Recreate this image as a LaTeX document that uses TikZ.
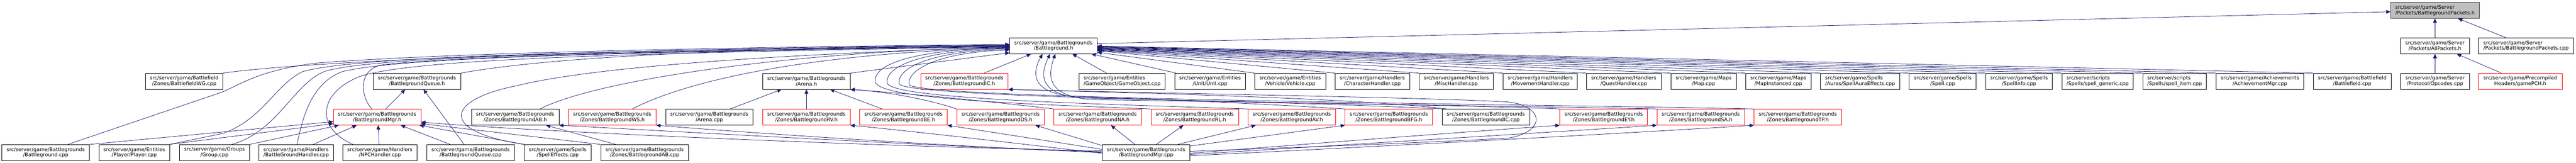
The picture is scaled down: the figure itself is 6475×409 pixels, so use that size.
\documentclass[tikz,border=0pt]{standalone}
\usepackage{fontspec}
\setmainfont{DejaVu Sans}
\usetikzlibrary{arrows.meta,calc}
\definecolor{mblue}{HTML}{191970}
\definecolor{rootfill}{HTML}{BFBFBF}
\begin{document}
\begin{tikzpicture}[x=0.75pt,y=-0.75pt,
  box/.style={draw=black,line width=0.75pt,rectangle,inner sep=0pt,minimum height=30pt,font=\fontsize{9.5}{10.5}\selectfont,align=center},
  rbox/.style={box,draw=red},
  lbox/.style={box,align=left},
  root/.style={box,fill=rootfill,draw=black!80,align=left},
  ed/.style={draw=mblue,line width=0.75pt},
  ar/.style={ed,{Triangle[length=8pt,width=7pt]}-}]
\useasboundingbox (0,0) rectangle (6475,409);
% row 0
\node[root,minimum width=167.25pt] (BPh) at (6120.5,26) {src/server/game/Server\\/Packets/BattlegroundPackets.h};
% row 1
\node[box,minimum width=165pt] (Bh) at (2648,115) {src/server/game/Battlegrounds\\/Battleground.h};
\node[box,minimum width=129.75pt] (AllP) at (6120.5,115) {src/server/game/Server\\/Packets/AllPackets.h};
\node[lbox,minimum width=179.25pt] (BPcpp) at (6349.5,115) {src/server/game/Server\\/Packets/BattlegroundPackets.cpp};
% row 2
\node[box,minimum width=145.5pt] (WG) at (463,204) {src/server/game/Battlefield\\/Zones/BattlefieldWG.cpp};
\node[box,minimum width=165pt] (BQh) at (1048,204) {src/server/game/Battlegrounds\\/BattlegroundQueue.h};
\node[box,minimum width=165pt] (Arenah) at (2027,204) {src/server/game/Battlegrounds\\/Arena.h};
\node[rbox,minimum width=165pt] (ICh) at (2424,204) {src/server/game/Battlegrounds\\/Zones/BattlegroundIC.h};
\node[lbox,minimum width=162.75pt] (GO) at (2820.5,204) {src/server/game/Entities\\/GameObject/GameObject.cpp};
\node[box,minimum width=132.75pt] (Unit) at (3041.5,204) {src/server/game/Entities\\/Unit/Unit.cpp};
\node[box,minimum width=133.5pt] (Veh) at (3243,204) {src/server/game/Entities\\/Vehicle/Vehicle.cpp};
\node[box,minimum width=140.25pt] (CharH) at (3449.5,204) {src/server/game/Handlers\\/CharacterHandler.cpp};
\node[box,minimum width=140.25pt] (MiscH) at (3660.5,204) {src/server/game/Handlers\\/MiscHandler.cpp};
\node[box,minimum width=140.25pt] (MoveH) at (3871.5,204) {src/server/game/Handlers\\/MovementHandler.cpp};
\node[box,minimum width=140.25pt] (QuestH) at (4081.5,204) {src/server/game/Handlers\\/QuestHandler.cpp};
\node[box,minimum width=123pt] (Map) at (4282,204) {src/server/game/Maps\\/Map.cpp};
\node[box,minimum width=123pt] (MapI) at (4470,204) {src/server/game/Maps\\/MapInstanced.cpp};
\node[lbox,minimum width=149.25pt] (SAE) at (4675.5,204) {src/server/game/Spells\\/Auras/SpellAuraEffects.cpp};
\node[box,minimum width=126pt] (Spell) at (4883,204) {src/server/game/Spells\\/Spell.cpp};
\node[box,minimum width=126pt] (SpellInfo) at (5075,204) {src/server/game/Spells\\/SpellInfo.cpp};
\node[lbox,minimum width=134.25pt] (SpGen) at (5272.5,204) {src/server/scripts\\/Spells/spell\_generic.cpp};
\node[lbox,minimum width=120pt] (SpItem) at (5466,204) {src/server/scripts\\/Spells/spell\_item.cpp};
\node[box,minimum width=165.75pt] (Ach) at (5680.5,204) {src/server/game/Achievements\\/AchievementMgr.cpp};
\node[box,minimum width=146.25pt] (BF) at (5912.5,204) {src/server/game/Battlefield\\/Battlefield.cpp};
\node[box,minimum width=129.75pt] (Opc) at (6120.5,204) {src/server/game/Server\\/Protocol/Opcodes.cpp};
\node[rbox,minimum width=157.5pt] (PCH) at (6335,204) {src/server/game/Precompiled\\Headers/gamePCH.h};
% row 3
\node[rbox,minimum width=165pt] (BMh) at (948,294) {src/server/game/Battlegrounds\\/BattlegroundMgr.h};
\node[box,minimum width=165pt] (ABh) at (1295,294) {src/server/game/Battlegrounds\\/Zones/BattlegroundAB.h};
\node[rbox,minimum width=165pt] (WSh) at (1539,294) {src/server/game/Battlegrounds\\/Zones/BattlegroundWS.h};
\node[box,minimum width=165pt] (Arenacpp) at (1783,294) {src/server/game/Battlegrounds\\/Arena.cpp};
\node[rbox,minimum width=165pt] (RVh) at (2027,294) {src/server/game/Battlegrounds\\/Zones/BattlegroundRV.h};
\node[rbox,minimum width=165pt] (BEh) at (2271,294) {src/server/game/Battlegrounds\\/Zones/BattlegroundBE.h};
\node[rbox,minimum width=165pt] (DSh) at (2515,294) {src/server/game/Battlegrounds\\/Zones/BattlegroundDS.h};
\node[rbox,minimum width=165pt] (NAh) at (2759,294) {src/server/game/Battlegrounds\\/Zones/BattlegroundNA.h};
\node[rbox,minimum width=165pt] (RLh) at (3003,294) {src/server/game/Battlegrounds\\/Zones/BattlegroundRL.h};
\node[rbox,minimum width=165pt] (AVh) at (3247,294) {src/server/game/Battlegrounds\\/Zones/BattlegroundAV.h};
\node[rbox,minimum width=165pt] (BFGh) at (3491,294) {src/server/game/Battlegrounds\\/Zones/BattlegroundBFG.h};
\node[box,minimum width=165pt] (ICcpp) at (3735,294) {src/server/game/Battlegrounds\\/Zones/BattlegroundIC.cpp};
\node[rbox,minimum width=165pt] (EYh) at (4031,294) {src/server/game/Battlegrounds\\/Zones/BattlegroundEY.h};
\node[rbox,minimum width=165pt] (SAh) at (4275,294) {src/server/game/Battlegrounds\\/Zones/BattlegroundSA.h};
\node[rbox,minimum width=165pt] (TPh) at (4519,294) {src/server/game/Battlegrounds\\/Zones/BattlegroundTP.h};
% row 4
\node[box,minimum width=165pt] (BGcpp) at (115,383) {src/server/game/Battlegrounds\\/Battleground.cpp};
\node[box,minimum width=132.75pt] (Player) at (337.5,383) {src/server/game/Entities\\/Player/Player.cpp};
\node[box,minimum width=132pt] (Group) at (539,383) {src/server/game/Groups\\/Group.cpp};
\node[lbox,minimum width=140.25pt] (BGH) at (744.5,383) {src/server/game/Handlers\\/BattleGroundHandler.cpp};
\node[box,minimum width=140.25pt] (NPCH) at (955,383) {src/server/game/Handlers\\/NPCHandler.cpp};
\node[box,minimum width=165pt] (BQcpp) at (1183,383) {src/server/game/Battlegrounds\\/BattlegroundQueue.cpp};
\node[box,minimum width=126pt] (SE) at (1402,383) {src/server/game/Spells\\/SpellEffects.cpp};
\node[box,minimum width=165.75pt] (ABcpp) at (1620.5,383) {src/server/game/Battlegrounds\\/Zones/BattlegroundAB.cpp};
\node[box,minimum width=165pt] (BMcpp) at (2881,383) {src/server/game/Battlegrounds\\/BattlegroundMgr.cpp};

% ---- edges: top
\draw[ar] ($(BPh.north west)+(0,24)$) -- ($(Bh.north east)+(0,15)$);
\draw[ar] (BPh.south) -- (AllP.north);
\draw[ar] ($(BPh.south west)+(170,0)$) -- ($(BPcpp.north west)+(69,0)$);
\draw[ar] (AllP.south) -- (Opc.north);
\draw[ar] ($(AllP.south west)+(142,0)$) -- ($(PCH.north west)+(58,0)$);

% ---- row 2 -> Battleground.h
\draw[ar] ($(Bh.north west)+(0,18)$) .. controls (1600,122) and (800,150) .. (WG.north east);
\draw[ar] ($(Bh.north west)+(0,20)$) .. controls (1900,120) and (1400,140) .. (BQh.north east);
\draw[ar] ($(Bh.south west)+(0,-3)$) -- (Arenah.north east);
\draw[ar] ($(Bh.south west)+(54,0)$) -- ($(ICh.north west)+(160,0)$);
\draw[ar] ($(Bh.south west)+(158,0)$) -- ($(GO.north west)+(70,0)$);
\draw[ar] ($(Bh.south east)+(-15,0)$) -- ($(Unit.north west)+(4,0)$);
\draw[ar] ($(Bh.south east)+(0,-4)$) -- (Veh.north west);
\foreach \n/\k in {CharH/33,MiscH/32,MoveH/31,QuestH/30,Map/29,MapI/28,SAE/27,Spell/26,SpellInfo/25,SpGen/24,SpItem/23,Ach/22,BF/21}
  \draw[ar] ($(Bh.north east)+(0,\k)$) -- (\n.north west);

% ---- row 3
\draw[ar] ($(Bh.north west)+(0,21)$) .. controls (1600,128) and (1100,145) .. (960,163) .. controls (900,175) and (905,240) .. ($(BMh.north west)+(97,0)$);
\draw[ar] ($(BQh.south west)+(81,0)$) -- ($(BMh.north west)+(132,0)$);
\draw[ar] ($(BQh.south west)+(127,0)$) -- ($(BQcpp.north west)+(94,0)$);
\draw[ar] ($(Bh.north west)+(0,24)$) .. controls (2000,128) and (1500,200) .. ($(ABh.north west)+(173,0)$);
\draw[ar] ($(Bh.north west)+(0,26)$) .. controls (2100,130) and (1750,190) .. ($(WSh.north west)+(161,0)$);
\draw[ar] ($(Arenah.south west)+(48,0)$) -- ($(Arenacpp.north west)+(163,0)$);
\draw[ar] (Arenah.south) -- (RVh.north);
\draw[ar] ($(Arenah.south west)+(170,0)$) -- ($(BEh.north west)+(57,0)$);
\draw[ar] (Arenah.south east) .. controls (2250,232) and (2350,255) .. (DSh.north west);
\draw[ar] (Arenah.south east) .. controls (2350,240) and (2550,262) .. (NAh.north west);
% S-curves to Battleground.h left
\draw[ar] ($(Bh.north west)+(0,25)$) .. controls (2300,125) and (2195,160) .. (2200,205) .. controls (2205,250) and (2600,262) .. (RLh.north west);
\draw[ar] ($(Bh.north west)+(0,27)$) .. controls (2320,127) and (2225,165) .. (2230,208) .. controls (2235,250) and (2800,262) .. (AVh.north west);
\draw[ar] ($(Bh.north west)+(0,29)$) .. controls (2340,129) and (2255,170) .. (2260,210) .. controls (2265,250) and (3600,262) .. (SAh.north west);
\draw[ar] ($(Bh.north west)+(0,31)$) .. controls (2360,131) and (2280,175) .. (2285,212) .. controls (2290,250) and (3900,262) .. (TPh.north west);
% curves to Battleground.h bottom
\draw[ar] ($(Bh.south west)+(83,0)$) .. controls (2590,190) and (2600,235) .. (2700,242) .. controls (2900,248) and (3200,262) .. (BFGh.north west);
\draw[ar] ($(Bh.south west)+(102,0)$) .. controls (2610,195) and (2620,238) .. (2720,246) .. controls (3000,252) and (3400,262) .. (ICcpp.north west);
\draw[ar] ($(Bh.south west)+(115,0)$) .. controls (2630,200) and (2640,240) .. (2740,250) .. controls (3100,256) and (3700,264) .. (EYh.north west);
% IC
\draw[ar] (ICh.south east) .. controls (2800,232) and (3400,245) .. ($(ICcpp.north west)+(12,0)$);
\draw[ar] (ICh.south east) .. controls (3000,236) and (3600,245) .. (3790,256) .. controls (3880,265) and (3890,330) .. (3790,347) .. controls (3500,362) and (3200,372) .. ($(BMcpp.east)+(0,-3)$);

% ---- row 4
\draw[ar] ($(Bh.north west)+(0,17)$) .. controls (1700,120) and (1100,135) .. (800,158) .. controls (650,175) and (600,215) .. (556,232) -- ($(BGcpp.north west)+(166,0)$);
\draw[ar] ($(BMh.south west)+(0,-9)$) -- (BGcpp.north east);
\draw[ar] ($(BMh.south west)+(0,-4)$) -- (Player.north east);
\draw[ar] ($(Bh.north west)+(0,19)$) .. controls (1500,128) and (900,140) .. (760,180) .. controls (690,215) and (660,300) .. (560,335) -- (Player.north east);
\draw[ar] ($(BMh.south west)+(14,0)$) -- (Group.north east);
\draw[ar] ($(Bh.north west)+(0,21)$) .. controls (1500,130) and (950,142) .. (820,178) .. controls (740,205) and (700,330) .. ($(Group.north west)+(132,0)$);
\draw[ar] ($(Bh.north west)+(0,22)$) .. controls (1500,132) and (1000,145) .. (860,180) .. controls (780,210) and (760,300) .. ($(BGH.north west)+(96,0)$);
\draw[ar] ($(BMh.south west)+(59,0)$) -- ($(BGH.north west)+(137,0)$);
\draw[ar] ($(Bh.north west)+(0,23)$) .. controls (1500,134) and (1050,150) .. (910,190) .. controls (800,230) and (790,320) .. ($(NPCH.north west)+(26,0)$);
\draw[ar] ($(BMh.south west)+(113,0)$) -- ($(NPCH.north west)+(92,0)$);
\draw[ar] ($(BMh.south west)+(170,0)$) -- ($(BQcpp.north west)+(59,0)$);
\draw[ar] ($(BMh.south east)+(-4,0)$) -- (SE.north west);
\draw[ar] ($(Bh.north west)+(0,23)$) .. controls (2000,135) and (1500,165) .. (1300,215) .. controls (1120,250) and (1100,330) .. (SE.north west);
\draw[ar] ($(ABh.south west)+(188,0)$) -- ($(ABcpp.north west)+(38,0)$);
\draw[ar] ($(BMh.south east)+(0,-4)$) -- (ABcpp.north west);
% BattlegroundMgr.cpp
\draw[ar] ($(BMh.south east)+(0,-8)$) .. controls (1400,335) and (2300,370) .. ($(BMcpp.west)+(0,-4)$);
\draw[ar] (ABh.south east) .. controls (1700,330) and (2400,370) .. ($(BMcpp.west)+(0,-2)$);
\draw[ar] (WSh.south east) .. controls (1900,335) and (2400,368) .. (BMcpp.west);
\draw[ar] (RVh.south east) .. controls (2300,330) and (2600,365) .. ($(BMcpp.west)+(0,2)$);
\draw[ar] (BEh.south east) -- ($(BMcpp.west)+(0,-8)$);
\draw[ar] ($(DSh.south west)+(198,0)$) -- ($(BMcpp.north west)+(0,3)$);
\draw[ar] ($(NAh.south west)+(144,0)$) -- ($(BMcpp.north west)+(82,0)$);
\draw[ar] ($(RLh.south west)+(82,0)$) -- ($(BMcpp.north west)+(136,0)$);
\draw[ar] ($(AVh.south west)+(20,0)$) -- ($(BMcpp.north west)+(190,0)$);
\draw[ar] (BFGh.south west) -- ($(BMcpp.north east)+(0,4)$);
\draw[ar] (EYh.south west) .. controls (3700,330) and (3300,360) .. ($(BMcpp.east)+(0,2)$);
\draw[ar] (SAh.south west) .. controls (3900,332) and (3400,362) .. ($(BMcpp.east)+(0,5)$);
\draw[ar] (TPh.south west) .. controls (4100,334) and (3500,366) .. ($(BMcpp.east)+(0,8)$);
\end{tikzpicture}
\end{document}
